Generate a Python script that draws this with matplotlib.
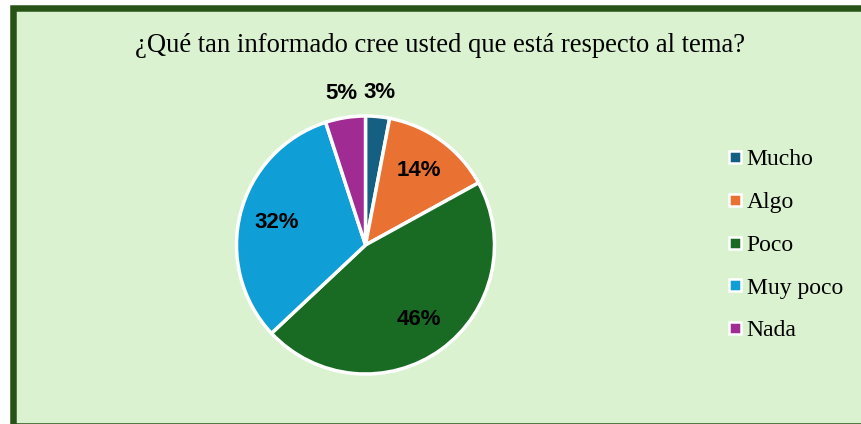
import matplotlib
matplotlib.use("Agg")
import matplotlib.pyplot as plt
from matplotlib.patches import Rectangle
from matplotlib.lines import Line2D
import numpy as np

categories = ["Mucho", "Algo", "Poco", "Muy poco", "Nada"]
values = [3, 14, 46, 32, 5]
pct_labels = ["3%", "14%", "46%", "32%", "5%"]
colors = ["#156082", "#E97132", "#196B24", "#0F9ED5", "#A02B93"]
title = "¿Qué tan informado cree usted que está respecto al tema?"

W, H = 862, 424
fig = plt.figure(figsize=(W / 100, H / 100), dpi=100)
fig.patch.set_facecolor("white")

# background panel with dark green border
bx0, by_top, by_bot, bx1 = 13.5, 8, 425.5, 875
fig.add_artist(Rectangle((bx0 / W, 1 - by_bot / H), (bx1 - bx0) / W, (by_bot - by_top) / H,
                         transform=fig.transFigure, facecolor="#DAF2D0",
                         edgecolor="#275317", linewidth=6.5 * 0.72, zorder=0))

cx, cy, r = 365.5, 245, 129
ax = fig.add_axes([(cx - r) / W, (H - cy - r) / H, 2 * r / W, 2 * r / H])
ax.set_facecolor("none")
wedges, _ = ax.pie(values, colors=colors, startangle=90, counterclock=False,
                   wedgeprops=dict(edgecolor="white", linewidth=2.5))
ax.set_xlim(-1, 1)
ax.set_ylim(-1, 1)
ax.set_aspect("equal")
ax.axis("off")

for w, lab, v in zip(wedges, pct_labels, values):
    ang = np.deg2rad((w.theta1 + w.theta2) / 2)
    d = 0.71 if v >= 10 else 1.19
    ax.text(d * np.cos(ang), d * np.sin(ang), lab, ha="center", va="center",
            fontsize=16, fontweight="bold", family="Liberation Sans", color="black",
            clip_on=False)

fig.text(440 / W, 1 - 45 / H, title, ha="center", va="center",
         fontsize=19.2, family="Liberation Serif", color="black")

handles = [Line2D([], [], linestyle="none", marker="s", markersize=8.5,
                  markerfacecolor=c, markeredgecolor="white", markeredgewidth=1.8)
           for c in colors]
fig.legend(handles, categories, loc="center left", bbox_to_anchor=(716 / W, 1 - 245 / H),
           frameon=False, prop=dict(family="Liberation Serif", size=17),
           handlelength=0.6, handletextpad=0.2, labelspacing=0.9, borderpad=0)

fig.savefig("out.png", dpi=100, facecolor=fig.get_facecolor())
